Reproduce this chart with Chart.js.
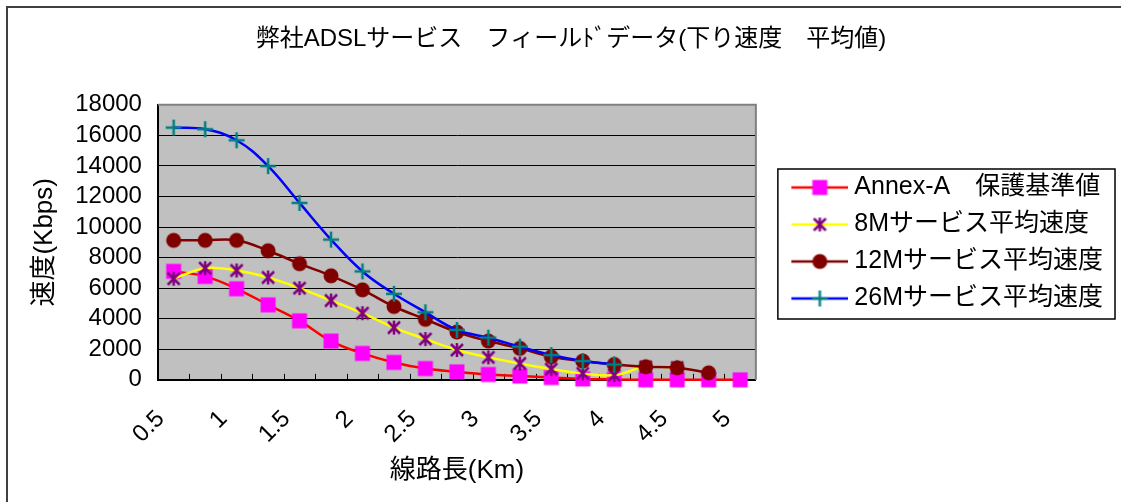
<!DOCTYPE html>
<html>
<head>
<meta charset="utf-8">
<script src="https://cdn.jsdelivr.net/npm/chart.js@4.4.1/dist/chart.umd.min.js"></script>
<style>
  html, body { margin: 0; padding: 0; background: #fff; }
  #wrap { position: relative; width: 1121px; height: 502px; }
</style>
</head>
<body>
<div id="wrap"><canvas id="adslChart" width="1121" height="502"></canvas></div>
<script>
// line length (km), one category every 0.25 km
const distances = ['0.5', '0.75', '1', '1.25', '1.5', '1.75', '2', '2.25', '2.5', '2.75',
                   '3', '3.25', '3.5', '3.75', '4', '4.25', '4.5', '4.75', '5'];

// series values (Kbps)
const annexA = [7100, 6770, 5960, 4910, 3860, 2540, 1730, 1140, 740, 525,
                350, 250, 150, 60, 30, 0, 0, 0, 0];
const avg8M  = [6620, 7310, 7160, 6700, 6000, 5190, 4360, 3420, 2670, 1950,
                1470, 1070, 700, 420, 310, 850, 800, null, null];
const avg12M = [9130, 9130, 9130, 8450, 7600, 6810, 5890, 4800, 3960, 3130,
                2540, 2060, 1510, 1230, 1005, 860, 790, 460, null];
const avg26M = [16510, 16400, 15680, 13990, 11580, 9180, 7095, 5630, 4420, 3265,
                2760, 2170, 1620, 1230, 1005, null, null, null, null];

const seriesNames = ['Annex-A\u3000保護基準値', '8Mサービス平均速度', '12Mサービス平均速度', '26Mサービス平均速度'];

const yTicksMax = 18000;
const yTicksStep = 2000;

const FONT = "'Liberation Sans', 'Noto Sans CJK JP', sans-serif";
const FS = 24;
const LEGEND_FS = 25;
const SYMBOL_W = 74;   // room kept for the legend symbol

// **Marker images** (Excel style markers)
function makeMarker(kind, color) {
    const c = document.createElement('canvas');
    c.width = 18; c.height = 18;
    const g = c.getContext('2d');
    g.strokeStyle = color;
    g.fillStyle = color;
    g.lineWidth = 2.5;
    if (kind === 'square') {
        g.fillRect(1.5, 1.5, 15, 15);
    } else if (kind === 'circle') {
        g.beginPath();
        g.arc(9, 9, 7.5, 0, Math.PI * 2);
        g.fill();
    } else if (kind === 'asterisk') {
        g.beginPath();
        g.moveTo(9, 2); g.lineTo(9, 16);
        g.moveTo(3, 3); g.lineTo(15, 15);
        g.moveTo(15, 3); g.lineTo(3, 15);
        g.stroke();
    } else if (kind === 'plus') {
        g.beginPath();
        g.moveTo(9, 1); g.lineTo(9, 17);
        g.moveTo(1, 9); g.lineTo(17, 9);
        g.stroke();
    }
    return c;
}

// legend symbol: line with marker in the middle, blank part on the left
function makeLegendSymbol(lineColor, marker) {
    const c = document.createElement('canvas');
    const iw = SYMBOL_W + 13;
    c.width = iw; c.height = 20;
    const g = c.getContext('2d');
    g.strokeStyle = lineColor;
    g.lineWidth = 2.5;
    g.beginPath();
    g.moveTo(iw - 57, 10); g.lineTo(iw, 10);
    g.stroke();
    g.drawImage(marker, iw - 28.5 - marker.width / 2, 10 - marker.height / 2);
    return c;
}

const mSquare = makeMarker('square', '#FF00FF');
const mAster = makeMarker('asterisk', '#800080');
const mCircle = makeMarker('circle', '#800000');
const mPlus = makeMarker('plus', '#008080');

const legendSymbols = [
    makeLegendSymbol('#FF0000', mSquare),
    makeLegendSymbol('#FFFF00', mAster),
    makeLegendSymbol('#800000', mCircle),
    makeLegendSymbol('#0000FF', mPlus)
];

// grey plot area, frame and outer border
const plotFrame = {
    id: 'plotFrame',
    beforeDraw(chart) {
        const { ctx, chartArea: a } = chart;
        ctx.save();
        ctx.fillStyle = '#C0C0C0';
        ctx.fillRect(a.left, a.top, a.right - a.left, a.bottom - a.top);
        ctx.restore();
    },
    beforeDatasetsDraw(chart) {
        const { ctx, chartArea: a } = chart;
        ctx.save();
        // inward tick marks on x axis at category boundaries
        const xs = chart.scales.x;
        const n = distances.length;
        const w = (a.right - a.left) / n;
        ctx.strokeStyle = '#000';
        ctx.lineWidth = 1;
        ctx.beginPath();
        for (let i = 1; i < n; i++) {
            const x = Math.round(xs.getPixelForValue(i) - w / 2) + 0.5;
            ctx.moveTo(x, a.bottom);
            ctx.lineTo(x, a.bottom - 6);
        }
        ctx.stroke();
        // top + right frame of plot
        ctx.strokeStyle = '#808080';
        ctx.lineWidth = 2;
        ctx.beginPath();
        ctx.moveTo(a.left, a.top);
        ctx.lineTo(a.right, a.top);
        ctx.lineTo(a.right, a.bottom);
        ctx.stroke();
        ctx.restore();
    },
    afterDraw(chart) {
        const { ctx } = chart;
        ctx.save();
        // legend border
        const boxes = chart.legend.legendHitBoxes;
        if (boxes && boxes.length) {
            const top = Math.min(...boxes.map(b => b.top));
            const bottom = Math.max(...boxes.map(b => b.top + b.height));
            const left = Math.min(...boxes.map(b => b.left)) + 10;
            ctx.strokeStyle = '#000';
            ctx.lineWidth = 1.5;
            ctx.strokeRect(left, top - 6, 1115 - left, bottom - top + 14);
        }
        // outer chart border (top and left)
        ctx.strokeStyle = '#404040';
        ctx.lineWidth = 2;
        ctx.beginPath();
        ctx.moveTo(7, 502);
        ctx.lineTo(7, 7);
        ctx.lineTo(1121, 7);
        ctx.stroke();
        ctx.restore();
    }
};

function makeDataset(idx, data, lineColor, marker, order) {
    return {
        label: seriesNames[idx],
        data: data,
        borderColor: lineColor,
        backgroundColor: lineColor,
        borderWidth: 2.5,
        tension: 0.4,
        pointStyle: marker,
        pointRadius: 8,
        spanGaps: false,
        clip: false,
        order: order
    };
}

function buildChart() {
    const ctx = document.getElementById('adslChart').getContext('2d');
    new Chart(ctx, {
        type: 'line',
        data: {
            labels: distances,
            datasets: [
                makeDataset(0, annexA, '#FF0000', mSquare, 3),
                makeDataset(1, avg8M, '#FFFF00', mAster, 2),
                makeDataset(2, avg12M, '#800000', mCircle, 1),
                makeDataset(3, avg26M, '#0000FF', mPlus, 0)
            ]
        },
        options: {
            responsive: false,
            animation: false,
            events: [],
            layout: { padding: { left: 29, right: 8, top: 0, bottom: 16 } },
            scales: {
                x: {
                    type: 'category',
                    offset: true,
                    grid: { display: false, drawOnChartArea: false },
                    border: { color: '#000', width: 2 },
                    ticks: {
                        autoSkip: false,
                        minRotation: 45,
                        maxRotation: 45,
                        color: '#000',
                        padding: 17,
                        labelOffset: -13,
                        font: { family: FONT, size: FS },
                        callback: function (value, index) {
                            return index % 2 === 0 ? distances[index] : '';
                        }
                    },
                    title: {
                        display: true,
                        text: '線路長(Km)',
                        color: '#000',
                        padding: { top: -11, bottom: 0 },
                        font: { family: FONT, size: 26 }
                    }
                },
                y: {
                    min: 0,
                    max: yTicksMax,
                    grid: { color: '#000', lineWidth: 1, drawTicks: false },
                    border: { color: '#000', width: 2 },
                    ticks: {
                        stepSize: yTicksStep,
                        autoSkip: false,
                        color: '#000',
                        padding: 16,
                        font: { family: FONT, size: FS },
                        callback: v => String(v)
                    },
                    title: {
                        display: true,
                        text: '速度(Kbps)',
                        color: '#000',
                        padding: { top: 0, bottom: -1 },
                        font: { family: FONT, size: 26 }
                    }
                }
            },
            plugins: {
                title: {
                    display: true,
                    text: '弊社ADSLサービス\u3000フィールﾄﾞデータ(下り速度\u3000平均値)',
                    color: '#000',
                    padding: { top: 25, bottom: 51 },
                    font: { family: FONT, size: FS, weight: 'normal' }
                },
                legend: {
                    position: 'right',
                    maxWidth: 420,
                    labels: {
                        usePointStyle: true,
                        pointStyleWidth: SYMBOL_W,
                        padding: 12,
                        color: '#000',
                        font: { family: FONT, size: LEGEND_FS },
                        sort: (a, b) => a.datasetIndex - b.datasetIndex,
                        generateLabels: function (chart) {
                            return chart.data.datasets.map((ds, i) => ({
                                text: ds.label,
                                pointStyle: legendSymbols[i],
                                fillStyle: ds.borderColor,
                                strokeStyle: ds.borderColor,
                                lineWidth: 0,
                                datasetIndex: i,
                                hidden: false
                            }));
                        }
                    }
                },
                tooltip: { enabled: false }
            }
        },
        plugins: [plotFrame]
    });
}

// wait for the fonts so legend widths are measured right
Promise.all([
    document.fonts.load(FS + "px 'Noto Sans CJK JP'", '速度保護基準値線路長弊社サービス'),
    document.fonts.load(FS + "px 'Liberation Sans'", 'Annex0123456789')
]).then(buildChart, buildChart);
</script>
</body>
</html>
